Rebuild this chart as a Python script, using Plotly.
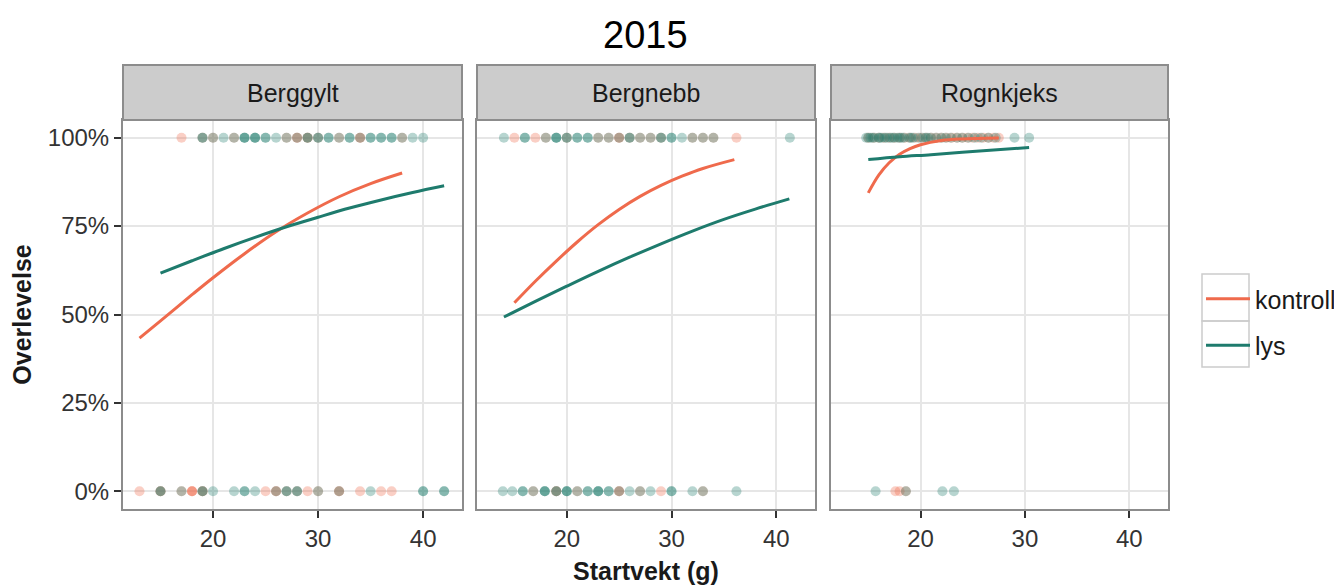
import plotly.graph_objects as go

# ---------------- data ----------------
species = ["Berggylt", "Bergnebb", "Rognkjeks"]
groups = ["kontroll", "lys"]
title_text = "2015"
x_title = "Startvekt (g)"
y_title = "Overlevelse"
x_ticks = [20, 30, 40]
y_ticks = [0, 0.25, 0.5, 0.75, 1]
y_ticklabels = ["0%", "25%", "50%", "75%", "100%"]

# observed start weights (g) of survivors (1) and dead (0)
berggylt_kontroll_alive = [17, 19, 20, 22, 27, 28, 28, 29, 29, 30, 32, 34, 34, 38]
berggylt_kontroll_dead = [13, 15, 15, 17, 18, 18, 18, 19, 19, 25, 26, 26, 27, 28, 29, 30, 32, 32, 34, 36, 37]
berggylt_lys_alive = [19, 19, 20, 21, 22, 23, 23, 23, 24, 24, 24, 25, 25, 26, 27, 28, 29, 29, 30, 30,
                      31, 31, 32, 33, 33, 34, 35, 35, 36, 36, 37, 37, 38, 39, 40]
berggylt_lys_dead = [15, 15, 17, 19, 19, 20, 22, 23, 23, 24, 26, 27, 27, 28, 28, 30, 32, 35, 40, 40, 42, 42]

bergnebb_kontroll_alive = [15, 17, 18, 20, 23, 24, 25, 25, 26, 27, 28, 29, 32, 33, 34, 36.2]
bergnebb_kontroll_dead = [16.8, 19, 19, 21, 25, 25, 27, 29, 33]
bergnebb_lys_alive = [14, 16, 16, 18, 19, 19, 19, 20, 20, 21, 21, 22, 22, 23, 24, 25, 26, 26, 27, 28,
                      29, 29, 30, 30, 31, 32, 33, 34, 41.3]
bergnebb_lys_dead = [13.9, 14.8, 15.8, 15.8, 16.8, 17.9, 17.9, 17.9, 19, 19, 20, 20, 20, 21, 22, 22,
                     23, 23, 23, 24, 24, 25, 26, 27, 28, 30, 30, 32, 33, 36.2]

rognkjeks_kontroll_alive = [15, 15.5, 16, 16.5, 17, 17.5, 18, 18.5, 19, 19.5, 20, 20.5, 21, 21.5, 22,
                            22.5, 23, 23.5, 24, 24.5, 25, 25.5, 26, 26.5, 27, 27.5]
rognkjeks_kontroll_dead = [17.6, 18.0, 18.6]
rognkjeks_lys_alive = [14.8, 15, 15.2, 15.4, 15.6, 16, 16.1, 16.3, 16.6, 16.8, 17.1, 17.3, 17.5, 17.8,
                       18, 18.2, 18.4, 18.9, 19.1, 19.3, 19.8, 20.2, 20.5, 20.7, 21, 21.5, 22, 22.4,
                       22.9, 23.5, 24, 24.6, 25.2, 25.8, 26.5, 27.2, 29, 30.4]
rognkjeks_lys_dead = [15.7, 18.6, 22.1, 23.2]

# fitted survival curves
berggylt_kontroll_fit_x = [13, 15, 18, 20, 23, 26, 29, 32, 35, 38]
berggylt_kontroll_fit_y = [0.433, 0.482, 0.556, 0.604, 0.672, 0.734, 0.787, 0.833, 0.870, 0.900]
berggylt_lys_fit_x = [15, 18, 21, 24, 27, 30, 33, 36, 39, 42]
berggylt_lys_fit_y = [0.617, 0.652, 0.686, 0.718, 0.748, 0.775, 0.801, 0.824, 0.845, 0.864]

bergnebb_kontroll_fit_x = [15, 17, 19, 21, 23, 25, 27, 29, 31, 33, 36]
bergnebb_kontroll_fit_y = [0.533, 0.594, 0.651, 0.705, 0.754, 0.797, 0.834, 0.865, 0.891, 0.913, 0.938]
bergnebb_lys_fit_x = [14, 17, 20, 23, 26, 29, 32, 35, 38, 41.25]
bergnebb_lys_fit_y = [0.493, 0.537, 0.580, 0.622, 0.662, 0.700, 0.736, 0.769, 0.798, 0.827]

rognkjeks_kontroll_fit_x = [15, 16, 17, 18, 19, 20, 22, 24, 27.5]
rognkjeks_kontroll_fit_y = [0.844, 0.894, 0.929, 0.953, 0.969, 0.980, 0.992, 0.9965, 0.999]
rognkjeks_lys_fit_x = [15, 18, 21, 24, 27, 30.4]
rognkjeks_lys_fit_y = [0.938, 0.946, 0.952, 0.959, 0.965, 0.972]

# ---------------- styling ----------------
OFF = 8  # page body margin in the browser
W, H = 1342 - OFF, 588 - OFF
colors = {"kontroll": "#EF6A4C", "lys": "#1E7B6D"}
point_colors = {"kontroll": "rgba(239,106,76,0.32)", "lys": "rgba(30,123,109,0.32)"}
FONT = "Liberation Sans, Arial, sans-serif"

panel_px = [(123, 462), (477, 815), (831, 1168)]
plot_top, plot_bottom = 120, 509
strip_top = 65


def px_x(p):
    return (p - OFF) / W


def px_y(p):
    return 1 - (p - OFF) / H


points = {
    "Berggylt": {"kontroll": (berggylt_kontroll_alive, berggylt_kontroll_dead),
                 "lys": (berggylt_lys_alive, berggylt_lys_dead)},
    "Bergnebb": {"kontroll": (bergnebb_kontroll_alive, bergnebb_kontroll_dead),
                 "lys": (bergnebb_lys_alive, bergnebb_lys_dead)},
    "Rognkjeks": {"kontroll": (rognkjeks_kontroll_alive, rognkjeks_kontroll_dead),
                  "lys": (rognkjeks_lys_alive, rognkjeks_lys_dead)},
}
fits = {
    "Berggylt": {"kontroll": (berggylt_kontroll_fit_x, berggylt_kontroll_fit_y),
                 "lys": (berggylt_lys_fit_x, berggylt_lys_fit_y)},
    "Bergnebb": {"kontroll": (bergnebb_kontroll_fit_x, bergnebb_kontroll_fit_y),
                 "lys": (bergnebb_lys_fit_x, bergnebb_lys_fit_y)},
    "Rognkjeks": {"kontroll": (rognkjeks_kontroll_fit_x, rognkjeks_kontroll_fit_y),
                  "lys": (rognkjeks_lys_fit_x, rognkjeks_lys_fit_y)},
}

fig = go.Figure()

for i, sp in enumerate(species):
    xa = "x" if i == 0 else f"x{i+1}"
    ya = "y" if i == 0 else f"y{i+1}"
    for g in ["kontroll", "lys"]:
        alive, dead = points[sp][g]
        fig.add_trace(go.Scatter(
            x=list(alive) + list(dead),
            y=[1] * len(alive) + [0] * len(dead),
            mode="markers",
            marker=dict(size=10, color=point_colors[g], line=dict(width=0)),
            xaxis=xa, yaxis=ya, showlegend=False, hoverinfo="x+y",
        ))
    for g in groups:
        fx, fy = fits[sp][g]
        fig.add_trace(go.Scatter(
            x=fx, y=fy, mode="lines",
            line=dict(color=colors[g], width=3, shape="spline"),
            xaxis=xa, yaxis=ya, name=g, legendgroup=g,
            showlegend=(i == 0),
        ))

axis_common = dict(
    showgrid=True, gridcolor="#E6E6E6", gridwidth=1.5,
    showline=True, linecolor="#8C8C8C", linewidth=2, mirror=True,
    zeroline=False,
    ticks="outside", ticklen=7, tickwidth=1.5, tickcolor="#333333",
    tickfont=dict(family=FONT, size=24, color="#333333"),
)

layout = dict(
    width=W, height=H,
    margin=dict(l=0, r=0, t=0, b=0),
    paper_bgcolor="white", plot_bgcolor="white",
    font=dict(family=FONT, color="#1A1A1A"),
    showlegend=True,
    legend=dict(
        x=px_x(1201), y=px_y(276), xanchor="left", yanchor="top",
        font=dict(family=FONT, size=25, color="#1A1A1A"),
        tracegroupgap=11, itemwidth=44, bgcolor="rgba(0,0,0,0)",
    ),
)

for i in range(3):
    sx = "" if i == 0 else str(i + 1)
    x0, x1 = panel_px[i]
    layout["xaxis" + sx] = dict(
        axis_common, domain=[px_x(x0), px_x(x1)], range=[11.43, 43.7],
        tickvals=x_ticks, anchor="y" + sx,
    )
    layout["yaxis" + sx] = dict(
        axis_common, domain=[px_y(plot_bottom), px_y(plot_top)], range=[-0.05, 1.05],
        tickvals=y_ticks, ticktext=y_ticklabels, anchor="x" + sx,
        showticklabels=(i == 0), ticks="outside" if i == 0 else "",
    )

layout["xaxis2"]["title"] = dict(text="<b>" + x_title + "</b>",
                                 font=dict(family=FONT, size=25, color="#1A1A1A"), standoff=12)
layout["yaxis"]["title"] = dict(text="<b>" + y_title + "</b>",
                                font=dict(family=FONT, size=25, color="#1A1A1A"), standoff=12)

fig.update_layout(**layout)

shapes = []
annotations = []
for i, sp in enumerate(species):
    x0, x1 = panel_px[i]
    shapes.append(dict(type="rect", xref="paper", yref="paper",
                       x0=px_x(x0), x1=px_x(x1), y0=px_y(plot_top), y1=px_y(strip_top),
                       fillcolor="#CCCCCC", line=dict(color="#8C8C8C", width=2), layer="above"))
    annotations.append(dict(text=sp, xref="paper", yref="paper",
                            x=px_x((x0 + x1) / 2), y=px_y((strip_top + plot_top) / 2),
                            xanchor="center", yanchor="middle", showarrow=False,
                            font=dict(family=FONT, size=25, color="#1A1A1A")))

# legend key boxes
for y0, y1 in [(274, 321), (321, 367)]:
    shapes.append(dict(type="rect", xref="paper", yref="paper",
                       x0=px_x(1202), x1=px_x(1249), y0=px_y(y1), y1=px_y(y0),
                       line=dict(color="#CCCCCC", width=1.5), fillcolor="rgba(0,0,0,0)"))

annotations.append(dict(text=title_text, xref="paper", yref="paper",
                        x=px_x(645), y=px_y(35), xanchor="center", yanchor="middle",
                        showarrow=False, font=dict(family=FONT, size=38, color="#000000")))

fig.update_layout(shapes=shapes, annotations=annotations)

fig.write_html("out.html")
